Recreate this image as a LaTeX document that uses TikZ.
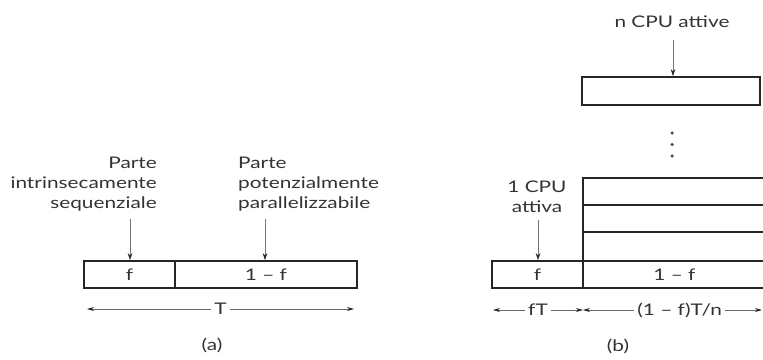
\documentclass[tikz,border=0pt]{standalone}
\usepackage{fontspec}
\setmainfont{Lato}[FakeStretch=1.3]
\usepackage{tikz}
\usetikzlibrary{arrows.meta, positioning}

\begin{document}
\begin{tikzpicture}[
  x=1pt, y=-1pt,
  every node/.style={font=\fontsize{16}{20}\selectfont, text=black!80},
  cell/.style={rectangle, draw=black!85, line width=1.6pt, minimum height=27pt, inner sep=0pt},
  lbl/.style={inner sep=0pt},
  arr/.style={draw=black!55, line width=0.6pt, -{Stealth[length=7pt, width=4.5pt, black!85]}},
  dim/.style={draw=black!60, line width=0.7pt, {Stealth[length=7pt, width=4pt, black!85]}-{Stealth[length=7pt, width=4pt, black!85]}},
  dot/.style={circle, fill=black!70, inner sep=0pt, minimum size=3.5pt},
]
\useasboundingbox (0,0) rectangle (763,359);

\node[cell, minimum width=91pt]  (fa)   at (129.5,274.5) {f};
\node[cell, minimum width=182pt] (resta) at (266,274.5)   {1 -- f};

\node[lbl, align=right, anchor=east] (seq) at (157,184) {Parte\\intrinsecamente\\sequenziale};
\node[lbl, align=left, anchor=west]  (par) at (238,184) {Parte\\potenzialmente\\parallelizzabile};

\coordinate (sa) at (130,219);
\coordinate (pa) at (265,219);
\draw[arr] (sa) -- (sa |- fa.north);
\draw[arr] (pa) -- (pa |- resta.north);

\coordinate (ta1) at (87,309);
\coordinate (ta2) at (354,309);
\draw[dim] (ta1) -- node[fill=white, inner sep=3pt] (tlab) {T} (ta2);
\node (capa) at (212,345) {(a)};

\node[cell, minimum width=91pt]  (fb)    at (537.5,274.5) {f};
\node[cell, minimum width=183pt] (row1)  at (674.5,274.5) {1 -- f};
\node[cell, minimum width=183pt, minimum height=29pt] (row2) at (674.5,246.5) {};
\node[cell, minimum width=183pt] (row3)  at (674.5,218.5) {};
\node[cell, minimum width=183pt] (row4)  at (674.5,191.5) {};
\node[cell, minimum width=178pt, minimum height=28pt] (rown) at (671,91) {};

\node[dot] (d1) at (672,133) {};
\node[dot] (d2) at (672,144.5) {};
\node[dot] (d3) at (672,156) {};

\node[lbl, align=center] (one) at (537,197) {1 CPU\\attiva};
\node[lbl, anchor=base] (many) at (672,27) {n CPU attive};

\coordinate (sb) at (538,220);
\coordinate (nb) at (673,40);
\draw[arr] (sb) -- (sb |- fb.north);
\draw[arr] (nb) -- (nb |- rown.north);

\coordinate (tb1) at (493,310);
\coordinate (tb2) at (583,310);
\coordinate (tb3) at (762,310);
\draw[dim] (tb1) -- node[fill=white, inner sep=3pt] (ftlab) {fT} (tb2);
\draw[dim] (tb2) -- node[pos=.54, fill=white, inner sep=3pt] (rtlab) {(1 -- f)T/n} (tb3);
\node (capb) at (618,346) {(b)};
\end{tikzpicture}
\end{document}
